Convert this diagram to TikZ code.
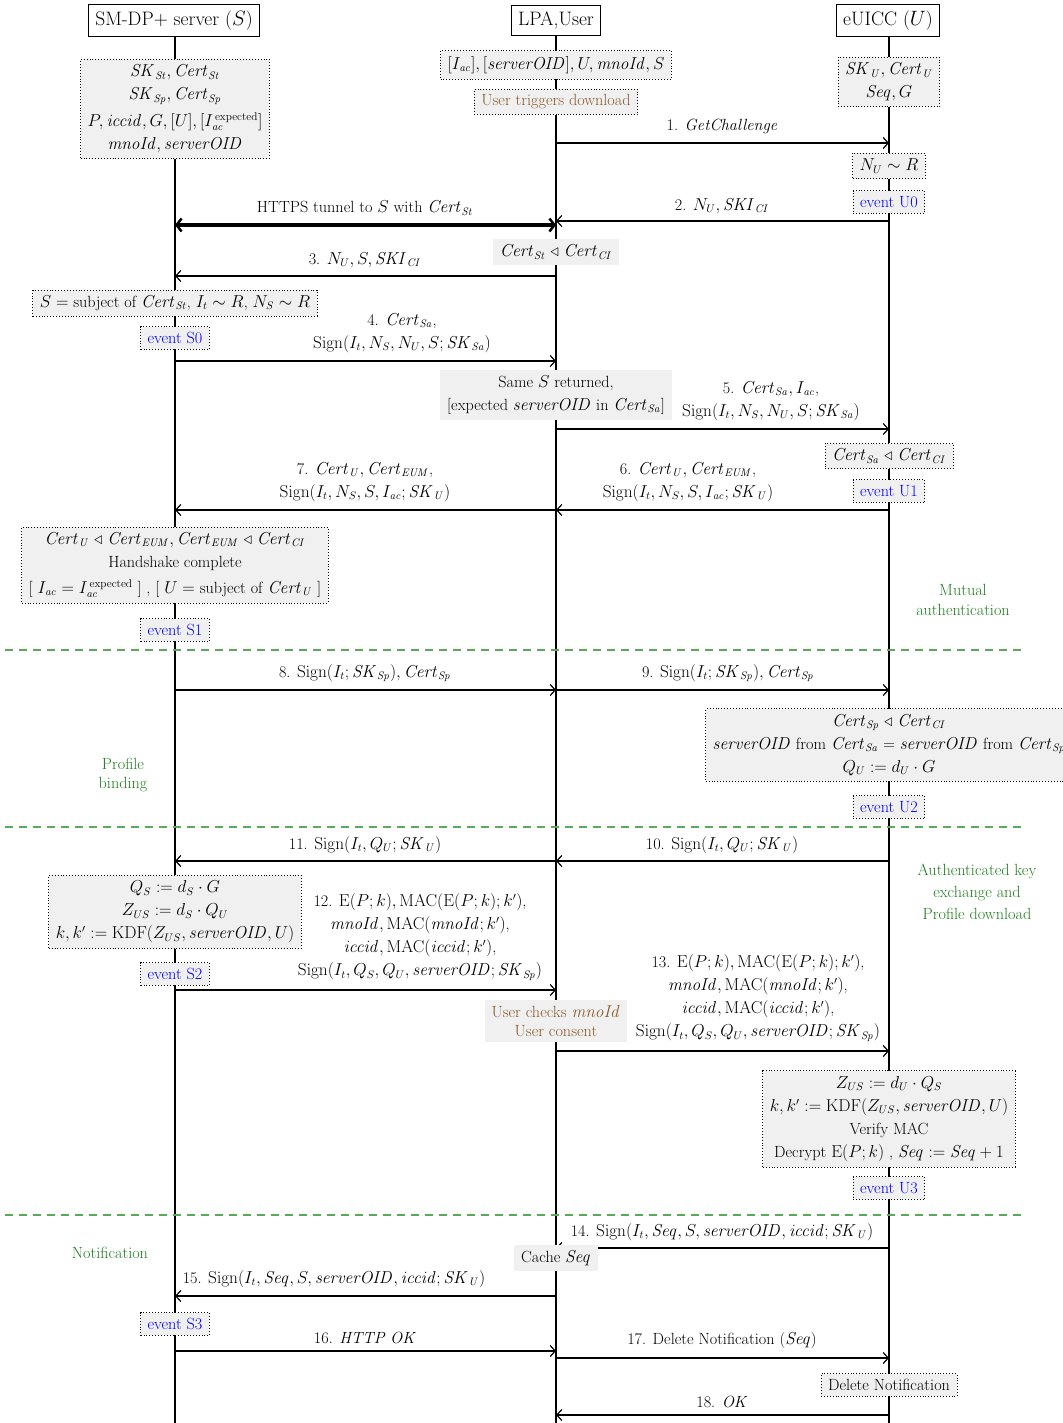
\documentclass[tikz,border=0pt]{standalone}
\usepackage{amsmath,amssymb}
\usetikzlibrary{arrows.meta}
\definecolor{grn}{HTML}{1E7D1E}
\definecolor{dashgrn}{HTML}{5AAA5A}
\definecolor{brn}{HTML}{8B5A2B}
\definecolor{boxgray}{HTML}{F0F0F0}
\newcommand\crt[1]{\mathit{Cert}_{\mathit{#1}}}
\newcommand\sk[1]{\mathit{SK}_{\mathit{#1}}}
\newcommand\ski{\mathit{SKI}_{\mathit{CI}}}
\newcommand\trl{\mathrel{\triangleleft}}
\newcommand\soid{\mathit{serverOID}}
\newcommand\mno{\mathit{mnoId}}
\newcommand\icc{\mathit{iccid}}
\newcommand\sgn{\mathrm{Sign}}
\newcommand\seqq{\mathit{Seq}}
\newcommand\iac{I_{\mathit{ac}}}
\newcommand\iexp{I_{\mathit{ac}}^{\text{expected}}}
\newcommand\defeq{\mathrel{:=}}
\newcommand\xS{175}
\newcommand\xL{556}
\newcommand\xU{889}
\newcommand\mymsg[4]{\coordinate (#1a) at (#2,#4); \coordinate (#1b) at (#3,#4); \draw[msg] (#1a) -- (#1b);}
\tikzset{
  every node/.style={font=\fontsize{16.2}{23}\selectfont, inner sep=0pt},
  actor/.style={draw, line width=1pt, inner xsep=7pt, inner ysep=6pt, font=\fontsize{19.5}{23}\selectfont},
  life/.style={line width=1.6pt},
  gbox/.style={fill=boxgray, draw, dotted, line width=0.9pt, align=center, inner xsep=7pt, inner ysep=5.5pt},
  nbox/.style={fill=boxgray, align=center, inner xsep=7pt, inner ysep=5.5pt},
  evt/.style={gbox, text=blue},
  lbl/.style={align=center},
  msg/.style={line width=1.8pt, -{Straight Barb[length=5pt,width=11pt,line width=1.2pt]}},
  tunnel/.style={line width=3.5pt, {Straight Barb[length=5pt,width=13pt,line width=2.5pt]}-{Straight Barb[length=5pt,width=13pt,line width=2.5pt]}},
  phase/.style={text=grn, align=center},
  sepline/.style={draw=dashgrn, dash pattern=on 8pt off 6pt, line width=1.2pt},
}
\begin{document}
\begin{tikzpicture}[x=1pt,y=-1pt]
\useasboundingbox (0,0) rectangle (1062,1423);
% headers
\node[actor] (hS) at (174,20.5) {SM-DP+ server ($S$)};
\node[actor] (hL) at (556,20.5) {LPA,User};
\node[actor] (hU) at (888,20.5) {eUICC ($U$)};
\coordinate (eS) at (\xS,1423);
\coordinate (eL) at (\xL,1423);
\coordinate (eU) at (\xU,1423);
\draw[life] (hS.south -| eS) -- (eS);
\draw[life] (hL.south -| eL) -- (eL);
\draw[life] (hU.south -| eU) -- (eU);
% separators
\coordinate (sp1a) at (5,650); \coordinate (sp1b) at (1025,650);
\coordinate (sp2a) at (5,827); \coordinate (sp2b) at (1025,827);
\coordinate (sp3a) at (5,1215); \coordinate (sp3b) at (1025,1215);
\draw[sepline] (sp1a) -- (sp1b);
\draw[sepline] (sp2a) -- (sp2b);
\draw[sepline] (sp3a) -- (sp3b);
% phase labels
\node[phase, font=\fontsize{16.2}{19.5}\selectfont] (ph1) at (963,600) {Mutual\\authentication};
\node[phase, font=\fontsize{16.2}{19.5}\selectfont] (ph2) at (123,775) {Profile\\binding};
\node[phase, font=\fontsize{16.2}{22}\selectfont] (ph3) at (977,892) {Authenticated key\\exchange and\\Profile download};
\node[phase] (ph4) at (110,1253) {Notification};
% initial knowledge
\node[gbox] (kS) at (\xS,109) {$\sk{St}, \crt{St}$\\$\sk{Sp}, \crt{Sp}$\\[4pt]$P, \icc, G, [U], [I_{\mathit{ac}}^{\,\text{expected}}]$\\$\mno, \soid$};
\node[gbox] (kL) at (\xL,65) {$[\iac], [\soid], U, \mno, S$};
\node[gbox, text=brn] (trig) at (\xL,102) {User triggers download};
\node[gbox] (kU) at (\xU,82) {$\sk{U}, \crt{U}$\\$\seqq, G$};
% 1
\mymsg{m1}{\xL}{\xU}{143}
\node[lbl] (l1) at (722,126) {1. \textit{GetChallenge}};
\node[gbox] (nu) at (\xU,166) {$N_U \sim R$};
\node[evt] (u0) at (\xU,202) {event U0};
% 2
\mymsg{m2}{\xU}{\xL}{221}
\node[lbl] (l2) at (722,206) {2. $N_U, \ski$};
% tunnel
\coordinate (tSa) at (\xS,225); \coordinate (tLa) at (\xL,225);
\draw[tunnel] (tSa) -- (tLa);
\node[lbl] (lt) at (365,208) {HTTPS tunnel to $S$ with $\crt{St}$};
\node[nbox] (cst) at (\xL,252) {$\crt{St} \trl \crt{CI}$};
% 3
\mymsg{m3}{\xL}{\xS}{276}
\node[lbl] (l3) at (365,260) {3. $N_U, S, \ski$};
\node[gbox] (subj) at (\xS,303) {$S =$ subject of $\crt{St}$, $I_t \sim R$, $N_S \sim R$};
\node[evt] (s0) at (\xS,338) {event S0};
% 4
\mymsg{m4}{\xS}{\xL}{361}
\node[lbl] (l4) at (402,333) {4. $\crt{Sa}$,\\$\sgn(I_t, N_S, N_U, S; \sk{Sa})$};
\node[nbox] (same) at (\xL,395) {Same $S$ returned,\\{}[expected $\soid$ in $\crt{Sa}$]};
% 5
\mymsg{m5}{\xL}{\xU}{429}
\node[lbl] (l5) at (771,401) {5. $\crt{Sa}, \iac$,\\$\sgn(I_t, N_S, N_U, S; \sk{Sa})$};
\node[gbox] (csa) at (\xU,456) {$\crt{Sa} \trl \crt{CI}$};
\node[evt] (u1) at (\xU,491) {event U1};
% 6, 7
\mymsg{m6}{\xU}{\xL}{510}
\node[lbl] (l6) at (688,482) {6. $\crt{U}, \crt{EUM}$,\\$\sgn(I_t, N_S, S, \iac; \sk{U})$};
\mymsg{m7}{\xL}{\xS}{510}
\node[lbl] (l7) at (365,482) {7. $\crt{U}, \crt{EUM}$,\\$\sgn(I_t, N_S, S, \iac; \sk{U})$};
\node[gbox] (hs) at (\xS,565) {$\crt{U} \trl \crt{EUM}, \crt{EUM} \trl \crt{CI}$\\Handshake complete\\[3pt]{}[ $I_{\mathit{ac}} = I_{\mathit{ac}}^{\,\text{expected}}$ ] , [ $U =$ subject of $\crt{U}$ ]};
\node[evt] (s1) at (\xS,630) {event S1};
% 8, 9
\mymsg{m8}{\xS}{\xL}{690}
\node[lbl] (l8) at (365,673) {8. $\sgn(I_t; \sk{Sp}), \crt{Sp}$};
\mymsg{m9}{\xL}{\xU}{690}
\node[lbl] (l9) at (728,673) {9. $\sgn(I_t; \sk{Sp}), \crt{Sp}$};
\node[gbox] (csp) at (\xU,745) {$\crt{Sp} \trl \crt{CI}$\\$\soid$ from $\crt{Sa}$ = $\soid$ from $\crt{Sp}$\\$Q_U \defeq d_U \cdot G$};
\node[evt] (u2) at (\xU,807) {event U2};
% 10, 11
\mymsg{m10}{\xU}{\xL}{861}
\node[lbl] (l10) at (722,845) {10. $\sgn(I_t, Q_U; \sk{U})$};
\mymsg{m11}{\xL}{\xS}{861}
\node[lbl] (l11) at (365,845) {11. $\sgn(I_t, Q_U; \sk{U})$};
\node[gbox] (qs) at (\xS,912) {$Q_S \defeq d_S \cdot G$\\$Z_{US} \defeq d_S \cdot Q_U$\\$k, k' \defeq \mathrm{KDF}(Z_{US}, \soid, U)$};
\node[evt] (s2) at (\xS,974) {event S2};
% 12
\mymsg{m12}{\xS}{\xL}{990}
\node[lbl] (l12) at (420,937) {12. $\mathrm{E}(P;k), \mathrm{MAC}(\mathrm{E}(P;k);k')$,\\$\mno, \mathrm{MAC}(\mno;k')$,\\$\icc, \mathrm{MAC}(\icc;k')$,\\$\sgn(I_t, Q_S, Q_U, \soid; \sk{Sp})$};
\node[nbox, text=brn, font=\fontsize{16.2}{18.5}\selectfont] (chk) at (\xL,1021) {User checks $\mno$\\User consent};
% 13
\mymsg{m13}{\xL}{\xU}{1051}
\node[lbl] (l13) at (758,998) {13. $\mathrm{E}(P;k), \mathrm{MAC}(\mathrm{E}(P;k);k')$,\\$\mno, \mathrm{MAC}(\mno;k')$,\\$\icc, \mathrm{MAC}(\icc;k')$,\\$\sgn(I_t, Q_S, Q_U, \soid; \sk{Sp})$};
\node[gbox] (zus) at (\xU,1119) {$Z_{US} \defeq d_U \cdot Q_S$\\$k, k' \defeq \mathrm{KDF}(Z_{US}, \soid, U)$\\Verify MAC\\Decrypt $\mathrm{E}(P;k)$ , $\seqq \defeq \seqq + 1$};
\node[evt] (u3) at (\xU,1188) {event U3};
% 14
\mymsg{m14}{\xU}{\xL}{1248}
\node[lbl] (l14) at (722,1232) {14. $\sgn(I_t, \seqq, S, \soid, \icc; \sk{U})$};
\node[nbox] (cache) at (\xL,1258) {Cache $\seqq$};
% 15
\mymsg{m15}{\xL}{\xS}{1296}
\node[lbl] (l15) at (334,1279) {15. $\sgn(I_t, \seqq, S, \soid, \icc; \sk{U})$};
\node[evt] (s3) at (\xS,1324) {event S3};
% 16, 17
\mymsg{m16}{\xS}{\xL}{1351}
\node[lbl] (l16) at (365,1338) {16. \textit{HTTP OK}};
\mymsg{m17}{\xL}{\xU}{1358}
\node[lbl] (l17) at (722,1340) {17. Delete Notification ($\seqq$)};
\node[gbox] (del) at (\xU,1385) {Delete Notification};
% 18
\mymsg{m18}{\xU}{\xL}{1415}
\node[lbl] (l18) at (722,1402) {18. \textit{OK}};
\end{tikzpicture}
\end{document}
